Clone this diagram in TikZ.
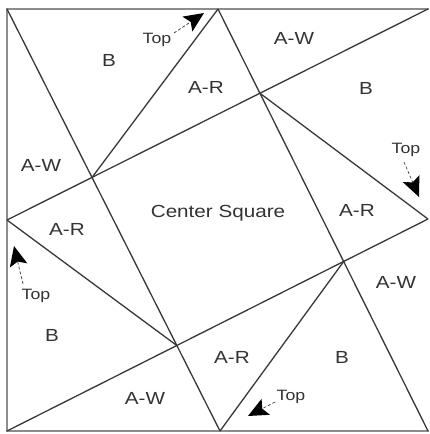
\documentclass[tikz,border=0pt]{standalone}
\usepackage{fontspec}
\newfontfamily\lbl[FakeStretch=1.18]{Liberation Sans}
\usetikzlibrary{calc}
\begin{document}
\begin{tikzpicture}[x=1pt,y=-1pt,
  border/.style={draw=black!45, line width=1.5pt},
  seam/.style={draw=black!78, line width=1.3pt},
  lab/.style={font=\lbl\fontsize{17.5}{20}\selectfont, text=black!80, inner sep=0pt},
  toplab/.style={font=\lbl\fontsize{15}{18}\selectfont, text=black!80, inner sep=0pt},
  shaft/.style={draw=black!75, line width=0.7pt, densely dashed, shorten >=14pt},
  headfill/.style={fill=black}]
\useasboundingbox (0,0) rectangle (429,434);
% corners and midpoints
\coordinate (TL) at (7,9);
\coordinate (TM) at (218,9);
\coordinate (TR) at (428,9);
\coordinate (ML) at (7,220);
\coordinate (MR) at (428,219);
\coordinate (BL) at (7,431);
\coordinate (BM) at (220,431);
\coordinate (BR) at (428,431);
% border (right side cut off in reference)
\draw[border] (429,9) -- (TL) -- (BL) -- (429,431);
% long seams
\draw[seam] (TL) -- (BM);
\draw[seam] (TM) -- (BR);
\draw[seam] (BL) -- (MR);
\draw[seam] (ML) -- (TR);
% center square corners
\coordinate (P1) at (intersection of TL--BM and ML--TR);
\coordinate (P2) at (intersection of TM--BR and ML--TR);
\coordinate (P3) at (intersection of TM--BR and BL--MR);
\coordinate (P4) at (intersection of TL--BM and BL--MR);
% short seams
\draw[seam] (TM) -- (P1);
\draw[seam] (MR) -- (P2);
\draw[seam] (BM) -- (P3);
\draw[seam] (ML) -- (P4);
% labels
\node[lab] (b1) at (109,60) {B};
\node[lab] (ar1) at (206,87) {A-R};
\node[lab] (aw1) at (294,38) {A-W};
\node[lab] (b2) at (366,88) {B};
\node[lab] (aw2) at (41,165) {A-W};
\node[lab] (cs) at (218,213) {Center Square};
\node[lab] (ar2) at (67,229) {A-R};
\node[lab] (ar3) at (357,210) {A-R};
\node[lab] (aw3) at (396,282) {A-W};
\node[lab] (b3) at (52,335) {B};
\node[lab] (aw4) at (145,398) {A-W};
\node[lab] (ar4) at (232,357) {A-R};
\node[lab] (b4) at (342,357) {B};
% Top labels with arrows
\node[toplab] (t1) at (157,40) {Top};
\node[toplab] (t2) at (406,150) {Top};
\node[toplab] (t3) at (36,296) {Top};
\node[toplab] (t4) at (291,397) {Top};
\coordinate (s1) at (174,33);
\coordinate (s2) at (404,162);
\coordinate (s3) at (23,284);
\coordinate (s4) at (275,402);
\coordinate (a1) at (204,13);
\coordinate (a2) at (419,197);
\coordinate (a3) at (14,246);
\coordinate (a4) at (248,416);
\foreach \s/\a in {s1/a1,s2/a2,s3/a3,s4/a4}{
  \draw[shaft] (\s) -- (\a);
  \fill[headfill] let \p1=($(\a)-(\s)$), \n1={atan2(\y1,\x1)} in
    [shift={(\a)}, rotate=\n1] (0,0) -- (-20,9) -- (-16,0) -- (-20,-9) -- cycle;
}
\end{tikzpicture}
\end{document}
